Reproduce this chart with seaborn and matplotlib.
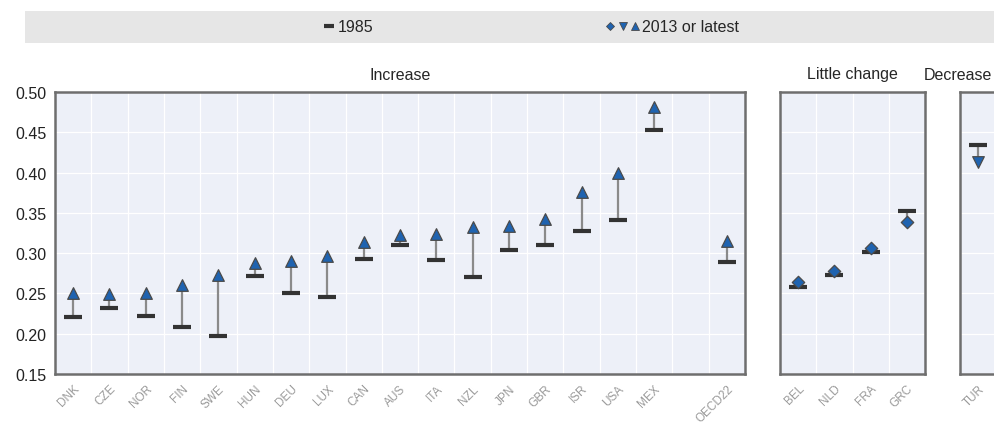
import numpy as np
import pandas as pd
import matplotlib
matplotlib.use("Agg")
import matplotlib.pyplot as plt
from matplotlib.lines import Line2D
from matplotlib.patches import Rectangle
from matplotlib.legend_handler import HandlerTuple
import seaborn as sns

# Gini values
inc_countries = ["DNK", "CZE", "NOR", "FIN", "SWE", "HUN", "DEU", "LUX", "CAN",
                 "AUS", "ITA", "NZL", "JPN", "GBR", "ISR", "USA", "MEX", "OECD22"]
inc_1985 = [0.221, 0.232, 0.222, 0.208, 0.197, 0.272, 0.250, 0.246, 0.293,
            0.310, 0.292, 0.271, 0.304, 0.310, 0.327, 0.341, 0.453, 0.289]
inc_2013 = [0.250, 0.249, 0.250, 0.260, 0.273, 0.288, 0.290, 0.297, 0.314,
            0.323, 0.324, 0.332, 0.334, 0.342, 0.376, 0.400, 0.481, 0.315]

lit_countries = ["BEL", "NLD", "FRA", "GRC"]
lit_1985 = [0.258, 0.273, 0.301, 0.352]
lit_2013 = [0.264, 0.278, 0.306, 0.339]

dec_countries = ["TUR"]
dec_1985 = [0.434]
dec_2013 = [0.413]

sns.set_theme(style="white")
plt.rcParams["font.family"] = ["Liberation Sans", "DejaVu Sans"]

BG = "#edf0f8"
BLUE = "#1f63b0"
EDGE = "#4a4a4a"
DASH = "#333333"

W, H = 994, 435
fig = plt.figure(figsize=(W / 100, H / 100), dpi=100)


def fx(px):
    return px / W


def fy(px):
    return 1 - px / H


def panel(left, right, countries, y85, y13, marker, msize, gap_before_last=False):
    ax = fig.add_axes([fx(left), fy(375), fx(right - left), (375 - 93) / H])
    pos = np.arange(len(countries), dtype=float)
    if gap_before_last:
        pos[-1] += 1  # empty slot before the OECD average
    df = pd.DataFrame({"country": countries, "pos": pos, "y1985": y85, "y2013": y13})
    nslots = int(pos[-1]) + 1

    ax.set_facecolor(BG)
    ax.vlines(df["pos"], df["y1985"], df["y2013"], color="#8a8a8a", lw=1.6, zorder=2)
    sns.scatterplot(data=df, x="pos", y="y1985", marker="_", s=170, color=DASH,
                    linewidth=3, ax=ax, zorder=3, legend=False)
    sns.scatterplot(data=df, x="pos", y="y2013", marker=marker, s=msize, color=BLUE,
                    edgecolor=EDGE, linewidth=0.9, ax=ax, zorder=4, legend=False)

    ax.set_xlim(-0.5, nslots - 0.5)
    ax.set_ylim(0.15, 0.50)
    ax.set_yticks(np.arange(0.15, 0.501, 0.05))
    ax.set_xticks(df["pos"])
    ax.set_xticklabels(countries, rotation=45, ha="right", rotation_mode="anchor",
                       fontsize=8.5, color="#9a9a9a")
    ax.set_xticks(np.arange(0.5, nslots - 1, 1.0), minor=True)
    ax.grid(True, axis="y", which="major", color="white", lw=0.9)
    ax.grid(True, axis="x", which="minor", color="white", lw=0.9)
    ax.tick_params(axis="x", which="both", length=0, pad=6)
    ax.tick_params(axis="y", length=0, pad=6, labelsize=11.5, labelcolor="#222222")
    ax.set_xlabel("")
    ax.set_ylabel("")
    for sp in ax.spines.values():
        sp.set_color("#6e6e6e")
        sp.set_linewidth(1.8)
    return ax


ax1 = panel(55, 745, inc_countries, inc_1985, inc_2013, "^", 70, gap_before_last=True)
ax2 = panel(780, 925, lit_countries, lit_1985, lit_2013, "D", 40)
ax3 = panel(960, 996, dec_countries, dec_1985, dec_2013, "v", 70)
ax2.set_yticklabels([])
ax3.set_yticklabels([])
ax1.set_yticklabels([f"{t:.2f}" for t in ax1.get_yticks()])

# section headers
fig.text(fx(400), fy(75), "Increase", ha="center", va="center", fontsize=11.5)
fig.text(fx(852), fy(75), "Little change", ha="center", va="center", fontsize=11.5)
fig.text(fx(992), fy(75), "Decrease", ha="right", va="center", fontsize=11.5)

# legend band
fig.patches.append(Rectangle((fx(25), fy(44)), fx(994 - 25), (44 - 12) / H,
                             transform=fig.transFigure, facecolor="#e6e6e6",
                             edgecolor="none", zorder=0))

h85 = Line2D([], [], ls="none", marker="_", ms=7, mew=3, color=DASH)
hd = Line2D([], [], ls="none", marker="D", ms=4.5, mfc=BLUE, mec=EDGE, mew=0.6)
hv = Line2D([], [], ls="none", marker="v", ms=6, mfc=BLUE, mec=EDGE, mew=0.6)
hu = Line2D([], [], ls="none", marker="^", ms=6, mfc=BLUE, mec=EDGE, mew=0.6)

fig.legend([h85], ["1985"], loc="center", bbox_to_anchor=(fx(348), fy(28)),
           frameon=False, fontsize=11.5, handlelength=0.8, handletextpad=0.1,
           borderpad=0)
fig.legend([(hd, hv, hu)], ["2013 or latest"], loc="center",
           bbox_to_anchor=(fx(672), fy(28)), frameon=False, fontsize=11.5,
           handlelength=2.2, handletextpad=0.1, borderpad=0,
           handler_map={tuple: HandlerTuple(ndivide=None, pad=0.1)})

fig.savefig("out.png", dpi=100)
